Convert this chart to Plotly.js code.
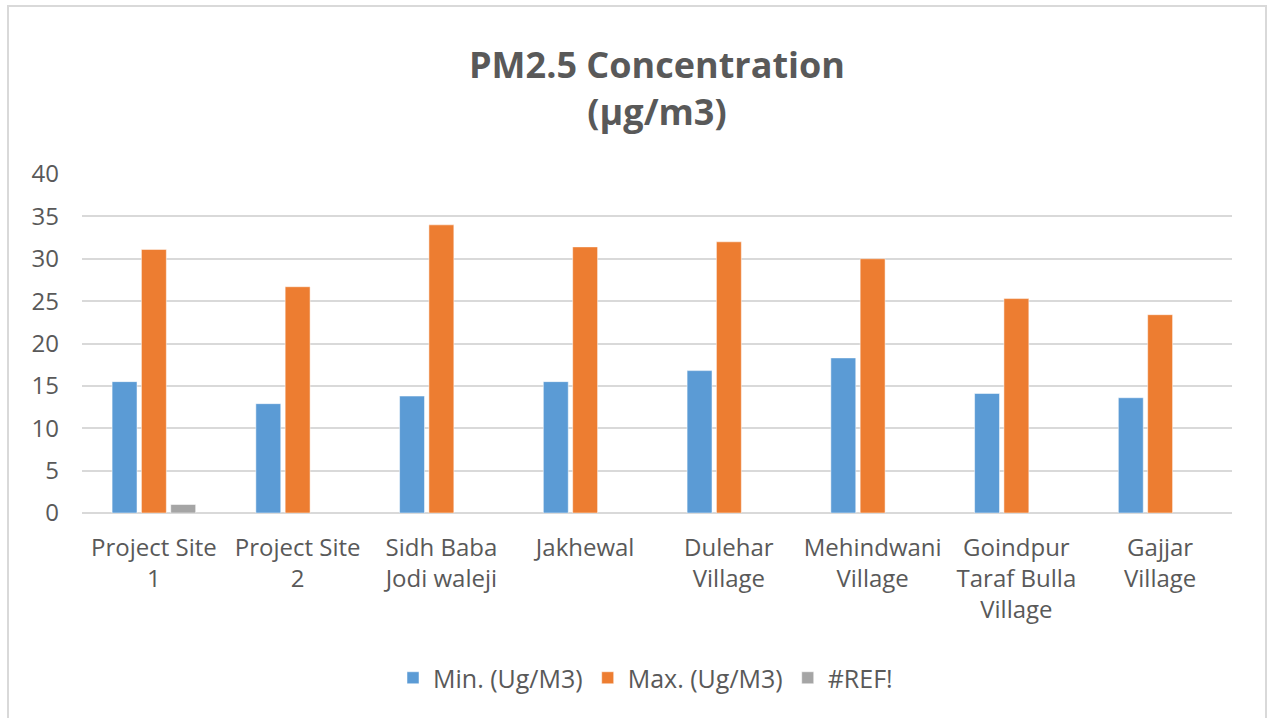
<!DOCTYPE html>
<html>
<head>
<meta charset="utf-8">
<script src="https://cdn.plot.ly/plotly-3.0.1.min.js"></script>
<style>
  html, body { margin: 0; padding: 0; background: #ffffff; }
  #chart { width: 1268px; height: 718px; }
  #frame { position: absolute; left: 7px; top: 5px; width: 1256px; height: 720px; border: 2px solid #D9D9D9; pointer-events: none; }
</style>
</head>
<body>
<div id="chart"></div>
<div id="frame"></div>
<script>
const categories = [
  "Project Site<br>1",
  "Project Site<br>2",
  "Sidh Baba<br>Jodi waleji",
  "Jakhewal",
  "Dulehar<br>Village",
  "Mehindwani<br>Village",
  "Goindpur<br>Taraf Bulla<br>Village",
  "Gajjar<br>Village"
];
const minValues = [15.5, 12.9, 13.8, 15.5, 16.8, 18.3, 14.1, 13.6];
const maxValues = [31.1, 26.7, 34.0, 31.4, 32.0, 30.0, 25.3, 23.4];
const refValues = [1, null, null, null, null, null, null, null];
const seriesNames = ["Min. (Ug/M3)", "Max. (Ug/M3)", "#REF!"];
const yTicks = [0, 5, 10, 15, 20, 25, 30, 35, 40];

const FONT = "Open Sans, Calibri, sans-serif";
const TXT = "#595959";
const TICK = 24;

const traces = [
  { type: "bar", name: seriesNames[0], x: categories, y: minValues,
    marker: { color: "#5B9BD5", line: { color: "#ffffff", width: 0.5 } } },
  { type: "bar", name: seriesNames[1], x: categories, y: maxValues,
    marker: { color: "#ED7D31", line: { color: "#ffffff", width: 0.5 } } },
  { type: "bar", name: seriesNames[2], x: categories, y: refValues,
    marker: { color: "#A5A5A5", line: { color: "#ffffff", width: 0.5 } } }
];

const layout = {
  width: 1268, height: 718,
  paper_bgcolor: "#ffffff", plot_bgcolor: "#ffffff",
  margin: { l: 82, r: 36, t: 174, b: 205 },
  font: { family: FONT, color: TXT, size: TICK },
  title: {
    text: "<b>PM2.5 Concentration<br>(µg/m3)</b>",
    font: { family: FONT, size: 36, color: TXT },
    x: 0.5, xref: "paper", xanchor: "center",
    y: 1 - 78 / 718, yref: "container", yanchor: "middle"
  },
  barmode: "group",
  bargap: 0.388,
  bargroupgap: 0.15,
  xaxis: {
    type: "category",
    showgrid: false, zeroline: false, showline: false,
    ticks: "",
    ticklabelstandoff: 18,
    tickfont: { family: FONT, size: TICK, color: TXT },
    automargin: false
  },
  yaxis: {
    range: [0, 40],
    tickvals: yTicks,
    ticktext: yTicks.map(String),
    showgrid: true, gridcolor: "#D9D9D9", gridwidth: 2,
    zeroline: true, zerolinecolor: "#D9D9D9", zerolinewidth: 2,
    showline: false, ticks: "",
    ticklabelstandoff: 22,
    tickfont: { family: FONT, size: TICK, color: TXT },
    automargin: false
  },
  showlegend: true,
  legend: {
    orientation: "h",
    x: 0.49, xanchor: "center", xref: "paper",
    y: 1 - 678 / 718, yref: "container",
    yanchor: "middle",
    font: { family: FONT, size: 25, color: TXT },
    itemwidth: 30,
    traceorder: "normal"
  }
};

Plotly.newPlot("chart", traces, layout, { displayModeBar: false, staticPlot: true });
</script>
</body>
</html>
